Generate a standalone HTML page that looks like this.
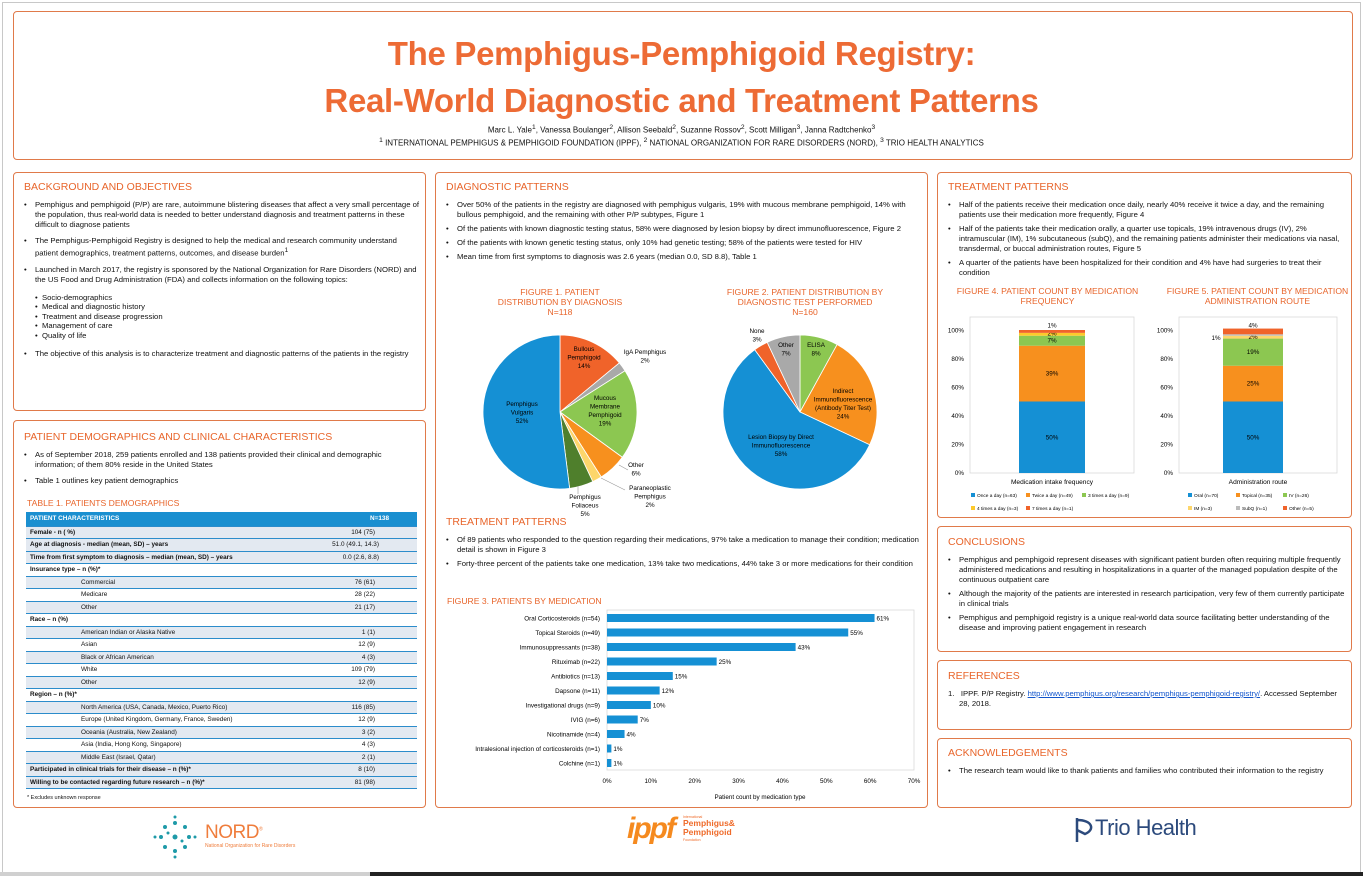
<!DOCTYPE html>
<html><head><meta charset="utf-8">
<style>
*{margin:0;padding:0;box-sizing:border-box}
body{width:1363px;height:876px;background:#fff;font-family:"Liberation Sans",sans-serif;color:#111;position:relative;overflow:hidden}
.frame{position:absolute;left:2px;top:2px;width:1359px;height:872px;border:1px solid #c8c8c8}
.box{position:absolute;border:1px solid #e07a4a;border-radius:4px;background:#fff}
.h{position:absolute;color:#e8652b;font-size:10.5px;font-weight:normal;letter-spacing:0}
.t{position:absolute;font-size:7.7px;line-height:10px;color:#111}
.t ul{list-style:none}
.t li{position:relative;padding-left:11px;margin-bottom:6px}
.t li:before{content:"•";position:absolute;left:0}
.cap{position:absolute;color:#e8652b;font-size:8.6px;text-align:center;line-height:10px}
.s{position:absolute;font-size:6.4px;white-space:nowrap}
table{border-collapse:collapse;font-size:6.4px}
td{border-bottom:1.5px solid #2b8ccb;height:12.5px;padding:0 4px;white-space:nowrap}
tr.g td{background:#e3e9f1}
td.b{font-weight:bold}
td.v{text-align:right;padding-right:42px}
td.i{padding-left:55px}
</style></head><body>
<div class="frame"></div>

<div class="box" style="left:13px;top:11px;width:1340px;height:149px"></div>
<div style="position:absolute;left:0;width:1363px;top:30px;text-align:center;color:#ed6b35;font-weight:bold;font-size:33px;line-height:47px;letter-spacing:-0.3px">The Pemphigus-Pemphigoid Registry:<br>Real-World Diagnostic and Treatment Patterns</div>
<div style="position:absolute;left:0;width:1363px;top:124px;text-align:center;font-size:8px">Marc L. Yale<sup>1</sup>, Vanessa Boulanger<sup>2</sup>, Allison Seebald<sup>2</sup>, Suzanne Rossov<sup>2</sup>, Scott Milligan<sup>3</sup>, Janna Radtchenko<sup>3</sup></div>
<div style="position:absolute;left:0;width:1363px;top:137px;text-align:center;font-size:8px"><sup>1</sup> INTERNATIONAL PEMPHIGUS &amp; PEMPHIGOID FOUNDATION (IPPF), <sup>2</sup> NATIONAL ORGANIZATION FOR RARE DISORDERS (NORD), <sup>3</sup> TRIO HEALTH ANALYTICS</div>

<!-- left column -->
<div class="box" style="left:13px;top:172px;width:413px;height:239px"></div>
<div class="h" style="left:24px;top:181px">BACKGROUND AND OBJECTIVES</div>
<div class="t" style="left:24px;top:200px;width:395px"><ul>
<li>Pemphigus and pemphigoid (P/P) are rare, autoimmune blistering diseases that affect a very small percentage of the population, thus real-world data is needed to better understand diagnosis and treatment patterns in these difficult to diagnose patients</li>
<li>The Pemphigus-Pemphigoid Registry is designed to help the medical and research community understand patient demographics, treatment patterns, outcomes, and disease burden<sup>1</sup></li>
<li>Launched in March 2017, the registry is sponsored by the National Organization for Rare Disorders (NORD) and the US Food and Drug Administration (FDA) and collects information on the following topics:</li>
</ul>
<div style="padding-left:11px;margin-top:8px;margin-bottom:8px;line-height:9.6px">• &nbsp;Socio-demographics<br>• &nbsp;Medical and diagnostic history<br>• &nbsp;Treatment and disease progression<br>• &nbsp;Management of care<br>• &nbsp;Quality of life</div>
<ul><li>The objective of this analysis is to characterize treatment and diagnostic patterns of the patients in the registry</li></ul></div>

<div class="box" style="left:13px;top:420px;width:413px;height:388px"></div>
<div class="h" style="left:24px;top:431px">PATIENT DEMOGRAPHICS AND CLINICAL CHARACTERISTICS</div>
<div class="t" style="left:24px;top:450px;width:395px"><ul>
<li>As of September 2018, 259 patients enrolled and 138 patients provided their clinical and demographic information; of them 80% reside in the United States</li>
<li>Table 1 outlines key patient demographics</li></ul></div>
<div class="cap" style="left:27px;top:498px;text-align:left">TABLE 1. PATIENTS DEMOGRAPHICS</div>
<table style="position:absolute;left:26px;top:512px;width:391px">
<tr><td class="b" style="background:#1a8fd0;color:#fff;height:14px">PATIENT CHARACTERISTICS</td><td class="b v" style="background:#1a8fd0;color:#fff;text-align:right;padding-right:28px">N=138</td></tr>
<tr class="g"><td class="b">Female - n ( %)</td><td class="v">104 (75)</td></tr>
<tr class="g"><td class="b">Age at diagnosis - median (mean, SD) – years</td><td class="v" style="padding-right:38px">51.0 (49.1, 14.3)</td></tr>
<tr class="g"><td class="b">Time from first symptom to diagnosis – median (mean, SD) – years</td><td class="v" style="padding-right:38px">0.0 (2.6, 8.8)</td></tr>
<tr><td class="b">Insurance type – n (%)*</td><td></td></tr>
<tr class="g"><td class="i">Commercial</td><td class="v">76 (61)</td></tr>
<tr><td class="i">Medicare</td><td class="v">28 (22)</td></tr>
<tr class="g"><td class="i">Other</td><td class="v">21 (17)</td></tr>
<tr><td class="b">Race – n (%)</td><td></td></tr>
<tr class="g"><td class="i">American Indian or Alaska Native</td><td class="v">1 (1)</td></tr>
<tr><td class="i">Asian</td><td class="v">12 (9)</td></tr>
<tr class="g"><td class="i">Black or African American</td><td class="v">4 (3)</td></tr>
<tr><td class="i">White</td><td class="v">109 (79)</td></tr>
<tr class="g"><td class="i">Other</td><td class="v">12 (9)</td></tr>
<tr><td class="b">Region – n (%)*</td><td></td></tr>
<tr class="g"><td class="i">North America (USA, Canada, Mexico, Puerto Rico)</td><td class="v">116 (85)</td></tr>
<tr><td class="i">Europe (United Kingdom, Germany, France, Sweden)</td><td class="v">12 (9)</td></tr>
<tr class="g"><td class="i">Oceania (Australia, New Zealand)</td><td class="v">3 (2)</td></tr>
<tr><td class="i">Asia (India, Hong Kong, Singapore)</td><td class="v">4 (3)</td></tr>
<tr class="g"><td class="i">Middle East (Israel, Qatar)</td><td class="v">2 (1)</td></tr>
<tr class="g"><td class="b">Participated in clinical trials for their disease – n (%)*</td><td class="v">8 (10)</td></tr>
<tr class="g"><td class="b">Willing to be contacted regarding future research – n (%)*</td><td class="v">81 (98)</td></tr>
</table>
<div class="s" style="left:27px;top:795px;font-size:5.5px">* Excludes unknown response</div>

<!-- middle column -->
<div class="box" style="left:435px;top:172px;width:493px;height:636px"></div>
<div class="h" style="left:446px;top:181px">DIAGNOSTIC PATTERNS</div>
<div class="t" style="left:446px;top:200px;width:475px"><ul style="">
<li style="margin-bottom:4px">Over 50% of the patients in the registry are diagnosed with pemphigus vulgaris, 19% with mucous membrane pemphigoid, 14% with bullous pemphigoid, and the remaining with other P/P subtypes, Figure 1</li>
<li style="margin-bottom:4px">Of the patients with known diagnostic testing status, 58% were diagnosed by lesion biopsy by direct immunofluorescence, Figure 2</li>
<li style="margin-bottom:4px">Of the patients with known genetic testing status, only 10% had genetic testing; 58% of the patients were tested for HIV</li>
<li>Mean time from first symptoms to diagnosis was 2.6 years (median 0.0, SD 8.8), Table 1</li></ul></div>
<div class="cap" style="left:480px;top:287px;width:160px">FIGURE 1. PATIENT<br>DISTRIBUTION BY DIAGNOSIS<br>N=118</div>
<div class="cap" style="left:720px;top:287px;width:170px">FIGURE 2. PATIENT DISTRIBUTION BY<br>DIAGNOSTIC TEST PERFORMED<br>N=160</div>
<svg id="pies" style="position:absolute;left:0;top:0" width="1363" height="876"></svg>

<div class="h" style="left:446px;top:516px">TREATMENT PATTERNS</div>
<div class="t" style="left:446px;top:535px;width:475px"><ul>
<li style="margin-bottom:4px">Of 89 patients who responded to the question regarding their medications, 97% take a medication to manage their condition; medication detail is shown in Figure 3</li>
<li>Forty-three percent of the patients take one medication, 13% take two medications, 44% take 3 or more medications for their condition</li></ul></div>
<div class="cap" style="left:447px;top:596px;text-align:left">FIGURE 3. PATIENTS BY MEDICATION</div>
<svg id="bars" style="position:absolute;left:0;top:0" width="1363" height="876"></svg>

<!-- right column -->
<div class="box" style="left:937px;top:172px;width:415px;height:346px"></div>
<div class="h" style="left:948px;top:181px">TREATMENT PATTERNS</div>
<div class="t" style="left:948px;top:200px;width:398px"><ul>
<li style="margin-bottom:4px">Half of the patients receive their medication once daily, nearly 40% receive it twice a day, and the remaining patients use their medication more frequently, Figure 4</li>
<li style="margin-bottom:4px">Half of the patients take their medication orally, a quarter use topicals, 19% intravenous drugs (IV), 2% intramuscular (IM), 1% subcutaneous (subQ), and the remaining patients administer their medications via nasal, transdermal, or buccal administration routes, Figure 5</li>
<li>A quarter of the patients have been hospitalized for their condition and 4% have had surgeries to treat their condition</li></ul></div>
<div class="cap" style="left:950px;top:286px;width:195px">FIGURE 4. PATIENT COUNT BY MEDICATION<br>FREQUENCY</div>
<div class="cap" style="left:1160px;top:286px;width:195px">FIGURE 5. PATIENT COUNT BY MEDICATION<br>ADMINISTRATION ROUTE</div>
<svg id="stk" style="position:absolute;left:0;top:0" width="1363" height="876"></svg>

<div class="box" style="left:937px;top:526px;width:415px;height:126px"></div>
<div class="h" style="left:948px;top:536px">CONCLUSIONS</div>
<div class="t" style="left:948px;top:555px;width:398px"><ul>
<li style="margin-bottom:4px">Pemphigus and pemphigoid represent diseases with significant patient burden often requiring multiple frequently administered medications and resulting in hospitalizations in a quarter of the managed population despite of the continuous outpatient care</li>
<li style="margin-bottom:4px">Although the majority of the patients are interested in research participation, very few of them currently participate in clinical trials</li>
<li>Pemphigus and pemphigoid registry is a unique real-world data source facilitating better understanding of the disease and improving patient engagement in research</li></ul></div>

<div class="box" style="left:937px;top:660px;width:415px;height:70px"></div>
<div class="h" style="left:948px;top:670px">REFERENCES</div>
<div class="t" style="left:948px;top:689px;width:398px;padding-left:11px;text-indent:-11px">1.&nbsp;&nbsp; IPPF. P/P Registry. <span style="color:#1155cc;text-decoration:underline">http://www.pemphigus.org/research/pemphigus-pemphigoid-registry/</span>. Accessed September 28, 2018.</div>

<div class="box" style="left:937px;top:738px;width:415px;height:70px"></div>
<div class="h" style="left:948px;top:747px">ACKNOWLEDGEMENTS</div>
<div class="t" style="left:948px;top:766px;width:398px"><ul><li>The research team would like to thank patients and families who contributed their information to the registry</li></ul></div>

<!-- logos -->
<svg style="position:absolute;left:150px;top:815px" width="50" height="45">
<g fill="#1e9aa8"><circle cx="25" cy="22" r="2.5"/><circle cx="25" cy="8" r="2"/><circle cx="25" cy="36" r="2"/><circle cx="11" cy="22" r="2"/><circle cx="39" cy="22" r="2"/><circle cx="15" cy="12" r="2"/><circle cx="35" cy="12" r="2"/><circle cx="15" cy="32" r="2"/><circle cx="35" cy="32" r="2"/><circle cx="25" cy="2" r="1.5"/><circle cx="25" cy="42" r="1.5"/><circle cx="5" cy="22" r="1.5"/><circle cx="45" cy="22" r="1.5"/><circle cx="18" cy="18" r="1.5"/><circle cx="32" cy="26" r="1.5"/></g></svg>
<div style="position:absolute;left:205px;top:822px;color:#ef7d3c;font-size:19px;letter-spacing:-0.5px">NORD<sup style="font-size:5px">®</sup></div>
<div style="position:absolute;left:205px;top:843px;color:#ef7d3c;font-size:5px">National Organization for Rare Disorders</div>
<div style="position:absolute;left:627px;top:812px;color:#f58a1f;font-size:30px;font-weight:bold;font-style:italic;letter-spacing:-2px">ippf</div>
<div style="position:absolute;left:683px;top:819px;color:#ef6b2a;font-size:8.5px;font-weight:bold;line-height:9px">Pemphigus&amp;<br>Pemphigoid</div>
<div style="position:absolute;left:683px;top:815px;color:#ef6b2a;font-size:3.5px">International</div>
<div style="position:absolute;left:683px;top:838px;color:#ef6b2a;font-size:3.5px">Foundation</div>
<svg style="position:absolute;left:1071px;top:816px" width="28" height="28"><path d="M6 2 L6 26 M6 4 C22 4 24 14 14 18 L6 14" fill="none" stroke="#2c4a7c" stroke-width="2.5"/></svg>
<div style="position:absolute;left:1095px;top:815px;color:#2c4a7c;font-size:22px;letter-spacing:-0.5px">Trio Health</div>
<div style="position:absolute;left:0;top:872px;width:370px;height:4px;background:#d0d0d0"></div>
<div style="position:absolute;left:370px;top:872px;width:993px;height:4px;background:#222"></div>

<script>
var NS="http://www.w3.org/2000/svg";
function el(svg,tag,a,txt){var e=document.createElementNS(NS,tag);for(var k in a)e.setAttribute(k,a[k]);if(txt!==undefined)e.textContent=txt;svg.appendChild(e);return e;}
function pie(svg,cx,cy,r,data){var a=0;data.forEach(function(d){var a1=a+d[0]/100*2*Math.PI;
var x0=cx+r*Math.sin(a),y0=cy-r*Math.cos(a),x1=cx+r*Math.sin(a1),y1=cy-r*Math.cos(a1);
el(svg,"path",{d:"M"+cx+","+cy+"L"+x0+","+y0+"A"+r+","+r+" 0 "+((a1-a)>Math.PI?1:0)+" 1 "+x1+","+y1+"Z",fill:d[1],stroke:"#fff","stroke-width":0.8});a=a1;});}
var P=document.getElementById("pies");
pie(P,560,412,77,[[14,"#f0632a"],[2,"#a9a9a9"],[19,"#8cc751"],[6,"#f7901e"],[2,"#fdd66b"],[5,"#4f7f2c"],[52,"#1590d4"]]);
pie(P,800,412,77,[[8,"#8cc751"],[24,"#f7901e"],[58,"#1590d4"],[3,"#f0632a"],[7,"#a9a9a9"]]);
function lab(svg,x,y,lines){lines.forEach(function(l,i){el(svg,"text",{x:x,y:y+i*8.5,"font-size":"6.3","text-anchor":"middle","font-family":"Liberation Sans"},l);});}
lab(P,584,351,["Bullous","Pemphigoid","14%"]);lab(P,645,354,["IgA Pemphigus","2%"]);
lab(P,605,400,["Mucous","Membrane","Pemphigoid","19%"]);lab(P,522,406,["Pemphigus","Vulgaris","52%"]);
lab(P,636,467,["Other","6%"]);lab(P,650,490,["Paraneoplastic","Pemphigus","2%"]);lab(P,585,499,["Pemphigus","Foliaceus","5%"]);
lab(P,757,333,["None","3%"]);lab(P,786,347,["Other","7%"]);lab(P,816,347,["ELISA","8%"]);
lab(P,843,393,["Indirect","Immunofluorescence","(Antibody Titer Test)","24%"]);lab(P,781,439,["Lesion Biopsy by Direct","Immunofluorescence","58%"]);
P.innerHTML+='<path d="M578,486 L578,494 M601,478 L625,490 M619,465 L628,470" stroke="#999" stroke-width="0.6" fill="none"/>';

var B=document.getElementById("bars");
el(B,"rect",{x:607,y:610,width:307,height:160,fill:"none",stroke:"#d9d9d9","stroke-width":0.8});
var rows=[["Oral Corticosteroids (n=54)",61],["Topical Steroids (n=49)",55],["Immunosuppressants (n=38)",43],["Rituximab (n=22)",25],["Antibiotics (n=13)",15],["Dapsone (n=11)",12],["Investigational drugs (n=9)",10],["IVIG (n=6)",7],["Nicotinamide (n=4)",4],["Intralesional injection of corticosteroids (n=1)",1],["Colchine (n=1)",1]];
rows.forEach(function(r,i){var y=618+i*14.5;var w=r[1]*4.386;
el(B,"rect",{x:607,y:y-4,width:w,height:8,fill:"#1590d4"});
el(B,"text",{x:600,y:y+2.3,"font-size":"6.3","text-anchor":"end"},r[0]);
el(B,"text",{x:609+w,y:y+2.3,"font-size":"6.3"},r[1]+"%");});
for(var k=0;k<=7;k++)el(B,"text",{x:607+k*43.86,y:783,"font-size":"6.3","text-anchor":"middle"},k*10+"%");
el(B,"text",{x:760,y:799,"font-size":"6.3","text-anchor":"middle"},"Patient count by medication type");

var S=document.getElementById("stk");
function stack(x0,x1,bx,bw,segs,xl,leg){
el(S,"rect",{x:x0,y:317,width:x1-x0,height:156,fill:"none",stroke:"#d9d9d9","stroke-width":0.8});
for(var k=0;k<=5;k++){var y=473-k*28.5;el(S,"text",{x:x0-6,y:y+2,"font-size":"6.3","text-anchor":"end"},k*20+"%");}
var y=473;segs.forEach(function(s){var h=s[0]*1.43;el(S,"rect",{x:bx,y:y-h,width:bw,height:h,fill:s[1]});
if(s[2])el(S,"text",{x:bx+bw/2+(s[3]||0),y:y-h/2+2+(s[4]||0),"font-size":"6.3","text-anchor":"middle"},s[2]);y-=h;});
el(S,"text",{x:(x0+x1)/2,y:484,"font-size":"6.6","text-anchor":"middle"},xl);
leg.forEach(function(l){el(S,"rect",{x:l[0],y:l[1]-4,width:4,height:4,fill:l[2]});el(S,"text",{x:l[0]+6,y:l[1],"font-size":"4.8"},l[3]);});}
stack(970,1134,1019,66,[[50,"#1590d4","50%"],[39,"#f7901e","39%"],[7,"#8cc751","7%"],[2,"#fdc92b","2%",0,-1],[2,"#f0632a","1%",0,-6]],"Medication intake frequency",
[[971,497,"#1590d4","Once a day (n=63)"],[1026,497,"#f7901e","Twice a day (n=49)"],[1082,497,"#8cc751","3 times a day (n=9)"],[971,510,"#fdc92b","4 times a day (n=3)"],[1026,510,"#f0632a","7 times a day (n=1)"]]);
stack(1179,1337,1223,60,[[50,"#1590d4","50%"],[25,"#f7901e","25%"],[19,"#8cc751","19%"],[2,"#fdd66b","2%",0,0],[1,"#bbb"],[4,"#f0632a","4%",0,-6]],"Administration route",
[[1188,497,"#1590d4","Oral (n=70)"],[1236,497,"#f7901e","Topical (n=35)"],[1283,497,"#8cc751","IV (n=26)"],[1188,510,"#fdd66b","IM (n=3)"],[1236,510,"#bbb","SubQ (n=1)"],[1283,510,"#f0632a","Other (n=5)"]]);
el(S,"text",{x:1216,y:340,"font-size":"6.3","text-anchor":"middle"},"1%");
</script>
</body></html>
